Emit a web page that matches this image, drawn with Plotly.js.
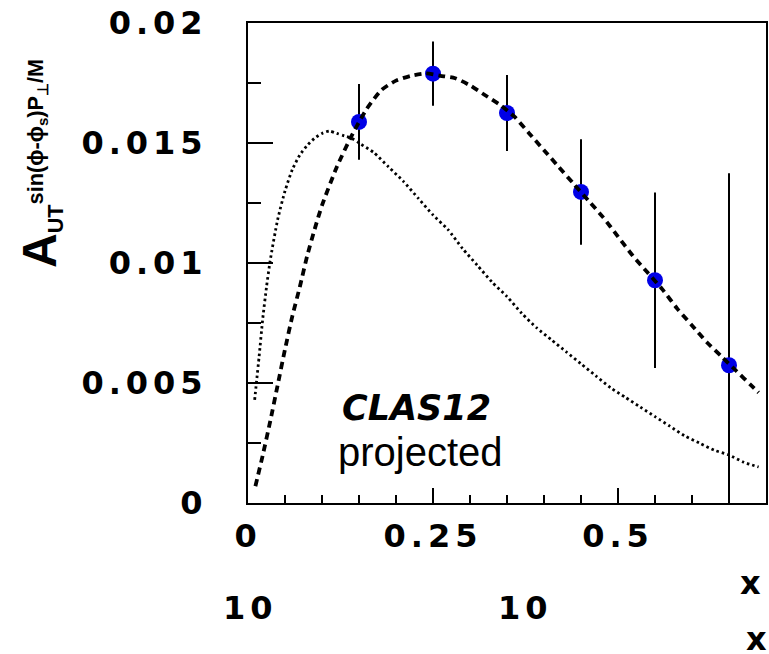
<!DOCTYPE html>
<html>
<head>
<meta charset="utf-8">
<script src="https://cdn.plot.ly/plotly-3.0.1.min.js"></script>
<style>
html, body { margin: 0; padding: 0; background: #ffffff; }
#chart { width: 769px; height: 654px; }
.xtick text, .ytick text, text[data-unformatted="10"] { letter-spacing: 5px; }
</style>
</head>
<body>
<div id="chart"></div>
<script>
// ---- measured points (CLAS12 projection) ----
const pointX   = [0.15, 0.25, 0.35, 0.45, 0.55, 0.65];
const pointY   = [0.01588, 0.01789, 0.01625, 0.01296, 0.00928, 0.00574];
const pointErr = [0.00158, 0.00134, 0.00158, 0.0022, 0.00366, 0.0080];

// ---- dashed model curve ----
const dashedX = [0.01, 0.02, 0.03, 0.04, 0.05, 0.06, 0.07, 0.08, 0.09, 0.10,
                 0.12, 0.14, 0.16, 0.18, 0.20, 0.22, 0.24, 0.26, 0.28, 0.30,
                 0.32, 0.34, 0.36, 0.38, 0.40, 0.42, 0.44, 0.46, 0.48, 0.50,
                 0.52, 0.54, 0.56, 0.58, 0.60, 0.62, 0.64, 0.66, 0.68, 0.69];
const dashedY = [0.0007, 0.0020, 0.0034, 0.0049, 0.0064, 0.0078, 0.0090, 0.0103, 0.0114, 0.0124,
                 0.0140, 0.0153, 0.0164, 0.0172, 0.0176, 0.0178, 0.0179, 0.0178, 0.0177, 0.0174,
                 0.0170, 0.0166, 0.0161, 0.0154, 0.0147, 0.0140, 0.0133, 0.0126, 0.0119, 0.0111,
                 0.0103, 0.0096, 0.0089, 0.0081, 0.0074, 0.0067, 0.0061, 0.0055, 0.0049, 0.0046];

// ---- dotted model curve ----
const dottedX = [0.009, 0.012, 0.015, 0.02, 0.025, 0.03, 0.04, 0.05, 0.06, 0.07,
                 0.08, 0.09, 0.10, 0.11, 0.12, 0.13, 0.14, 0.15, 0.17, 0.19,
                 0.21, 0.23, 0.25, 0.27, 0.29, 0.31, 0.33, 0.35, 0.37, 0.39,
                 0.41, 0.43, 0.45, 0.47, 0.49, 0.51, 0.53, 0.55, 0.57, 0.59,
                 0.61, 0.63, 0.65, 0.67, 0.69];
const dottedY = [0.0043, 0.0052, 0.0061, 0.0077, 0.0090, 0.0101, 0.0118, 0.0130, 0.0139, 0.0145,
                 0.0149, 0.0152, 0.0154, 0.0155, 0.0154, 0.0153, 0.0152, 0.0150, 0.0146, 0.0140,
                 0.0134, 0.0127, 0.0120, 0.0114, 0.0106, 0.0099, 0.0092, 0.0086, 0.0079, 0.0073,
                 0.0068, 0.0063, 0.0058, 0.0053, 0.0048, 0.0044, 0.0040, 0.0036, 0.0032, 0.0028,
                 0.0025, 0.0022, 0.0020, 0.0017, 0.0015];

// ---- tick labels ----
const xTickVals = [0, 0.25, 0.5];
const xTickText = ['0', '0.25', '0.5'];
const yTickVals = [0, 0.005, 0.01, 0.015, 0.02];
const yTickText = ['0', '0.005', '0.01', '0.015', '0.02'];

// ---- texts ----
const yTitle = '<span style="font-size:48px">A</span><sub>UT</sub><sup>sin(ϕ-ϕ<sub>s</sub>)P<sub>⊥</sub>/M</sup>';
const expLabel = '10';
const xLabel = 'x';

// plot area in pixels (for placing free text)
const L = 248, R = 766, T = 23, B = 503;
const px2x = p => (p - L) / (R - L);
const py2y = p => (B - p) / (B - T);

const tickFont = { family: 'DejaVu Sans', size: 32, weight: 'bold', color: '#000000' };

const traces = [
  {
    type: 'scatter', mode: 'markers',
    x: pointX, y: pointY,
    marker: { color: '#0000e6', size: 16, symbol: 'circle', line: { width: 0 } },
    error_y: { type: 'data', array: pointErr, visible: true, color: '#000000', thickness: 2, width: 0 },
    hoverinfo: 'x+y'
  },
  {
    type: 'scatter', mode: 'lines',
    x: dottedX, y: dottedY,
    line: { color: '#000000', width: 2.8, dash: '2.5px,3px', shape: 'spline', smoothing: 0.6 }
  },
  {
    type: 'scatter', mode: 'lines',
    x: dashedX, y: dashedY,
    line: { color: '#000000', width: 3.8, dash: '7px,5px', shape: 'spline', smoothing: 0.6 }
  }
];

const layout = {
  width: 769, height: 654,
  margin: { l: L, r: 769 - R, t: T, b: 654 - B, pad: 0 },
  paper_bgcolor: '#ffffff', plot_bgcolor: '#ffffff',
  showlegend: false,
  xaxis: {
    range: [0, 0.7], tickmode: 'array', tickvals: xTickVals, ticktext: xTickText,
    ticks: 'inside', ticklen: 15, tickwidth: 1.5, tickcolor: '#000000',
    minor: { tickmode: 'linear', tick0: 0, dtick: 0.05, ticks: 'inside', ticklen: 8, tickwidth: 1.5, tickcolor: '#000000', showgrid: false },
    showline: true, linecolor: '#000000', linewidth: 2, mirror: true,
    showgrid: false, zeroline: false, tickfont: tickFont, ticklabelstandoff: 4
  },
  yaxis: {
    range: [0, 0.02], tickmode: 'array', tickvals: yTickVals, ticktext: yTickText,
    ticks: 'inside', ticklen: 25, tickwidth: 1.5, tickcolor: '#000000',
    minor: { tickmode: 'linear', tick0: 0, dtick: 0.0025, ticks: 'inside', ticklen: 13, tickwidth: 1.5, tickcolor: '#000000', showgrid: false },
    showline: true, linecolor: '#000000', linewidth: 2, mirror: true,
    showgrid: false, zeroline: false, tickfont: tickFont, ticklabelstandoff: 32
  },
  annotations: [
    { text: yTitle, textangle: -90, xref: 'paper', yref: 'paper', x: px2x(41), y: py2y(164),
      xanchor: 'center', yanchor: 'middle', showarrow: false,
      font: { family: 'Liberation Sans', size: 31, weight: 'bold', color: '#000000' } },
    { text: '<b><i>CLAS12</i></b>', xref: 'paper', yref: 'paper', x: px2x(416), y: py2y(408),
      xanchor: 'center', yanchor: 'middle', showarrow: false,
      font: { family: 'DejaVu Sans', size: 35, color: '#000000' } },
    { text: 'projected', xref: 'paper', yref: 'paper', x: px2x(420), y: py2y(452),
      xanchor: 'center', yanchor: 'middle', showarrow: false,
      font: { family: 'Liberation Sans', size: 40, color: '#000000' } },
    { text: expLabel, xref: 'paper', yref: 'paper', x: px2x(250), y: py2y(608),
      xanchor: 'center', yanchor: 'middle', showarrow: false, font: tickFont },
    { text: expLabel, xref: 'paper', yref: 'paper', x: px2x(525), y: py2y(608),
      xanchor: 'center', yanchor: 'middle', showarrow: false, font: tickFont },
    { text: xLabel, xref: 'paper', yref: 'paper', x: px2x(750), y: py2y(583),
      xanchor: 'center', yanchor: 'middle', showarrow: false, font: tickFont },
    { text: xLabel, xref: 'paper', yref: 'paper', x: px2x(756), y: py2y(639),
      xanchor: 'center', yanchor: 'middle', showarrow: false, font: tickFont }
  ]
};

Plotly.newPlot('chart', traces, layout, { staticPlot: true, displayModeBar: false });
</script>
</body>
</html>
